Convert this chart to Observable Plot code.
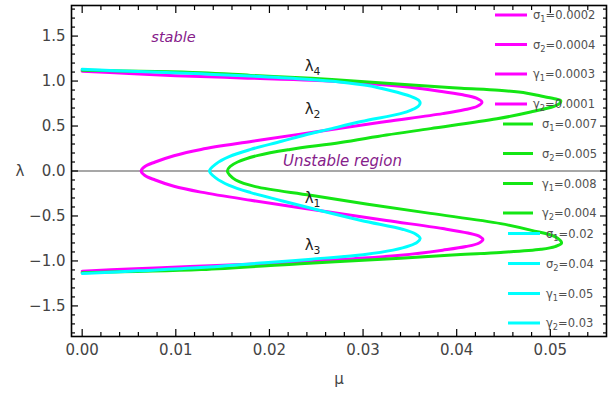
<!DOCTYPE html>
<html>
<head>
<meta charset="utf-8">
<script src="https://cdn.jsdelivr.net/npm/d3@7"></script>
<script src="https://cdn.jsdelivr.net/npm/@observablehq/plot@0.6"></script>
<style>
  body { margin: 0; background: white; }
  #chart { width: 611px; height: 393px; }
</style>
</head>
<body>
<div id="chart"></div>
<script>
// ---- data (μ as a function of λ, along each curve) ----
const lamMagenta = [1.11, 1.085, 1.06, 1.035, 1.01, 0.975, 0.93, 0.89, 0.85, 0.81, 0.765, 0.72, 0.68, 0.638, 0.55, 0.47, 0.41, 0.33, 0.24, 0.17, 0.1, 0.05, 0,
  -0.05, -0.1, -0.17, -0.235, -0.326, -0.437, -0.55, -0.64, -0.69, -0.73, -0.762, -0.80, -0.84, -0.88, -0.937, -0.975, -1.01, -1.04, -1.063, -1.09, -1.114];
const muMagenta = [0, 0.005, 0.010, 0.017, 0.0245, 0.030, 0.035, 0.038, 0.0405, 0.0421, 0.0427, 0.0422, 0.0408, 0.0385, 0.0325, 0.0272, 0.0233, 0.0182, 0.0127, 0.0098, 0.0078, 0.0067, 0.0063,
  0.0067, 0.0078, 0.0098, 0.0127, 0.018, 0.0251, 0.0325, 0.0385, 0.0412, 0.0425, 0.0428, 0.0424, 0.041, 0.0385, 0.034, 0.029, 0.0233, 0.017, 0.0115, 0.005, 0];

const lamGreen = [1.12, 1.093, 1.063, 1.03, 1.0, 0.95, 0.92, 0.897, 0.865, 0.833, 0.80, 0.785, 0.75, 0.72, 0.656, 0.58, 0.471, 0.40, 0.316, 0.24, 0.174, 0.1, 0.05, 0,
  -0.05, -0.1, -0.174, -0.27, -0.37, -0.471, -0.585, -0.66, -0.73, -0.80, -0.84, -0.87, -0.905, -0.93, -0.97, -1.03, -1.096, -1.13];
const muGreen = [0, 0.0127, 0.018, 0.0245, 0.029, 0.036, 0.0405, 0.0445, 0.0475, 0.049, 0.0506, 0.0511, 0.051, 0.0504, 0.0479, 0.0443, 0.0372, 0.0325, 0.0276, 0.0222, 0.0188, 0.0166, 0.0158, 0.0155,
  0.0158, 0.0164, 0.0185, 0.0244, 0.0305, 0.0372, 0.0447, 0.048, 0.0505, 0.0512, 0.0505, 0.049, 0.0447, 0.040, 0.034, 0.0233, 0.0127, 0];

const lamCyan = [1.13, 1.105, 1.08, 1.05, 1.02, 0.99, 0.95, 0.897, 0.83, 0.79, 0.756, 0.72, 0.68, 0.638, 0.55, 0.46, 0.40, 0.33, 0.24, 0.16, 0.08, 0,
  -0.08, -0.16, -0.24, -0.33, -0.437, -0.55, -0.65, -0.70, -0.751, -0.79, -0.83, -0.88, -0.93, -0.98, -1.02, -1.073, -1.11, -1.14];
const muCyan = [0, 0.006, 0.0127, 0.019, 0.024, 0.0275, 0.0305, 0.0328, 0.0351, 0.0359, 0.0361, 0.0359, 0.0352, 0.034, 0.0298, 0.0262, 0.0238, 0.0213, 0.018, 0.0157, 0.0143, 0.0136,
  0.0143, 0.0157, 0.018, 0.0213, 0.0253, 0.0298, 0.0343, 0.0356, 0.0361, 0.0358, 0.035, 0.0332, 0.030, 0.0245, 0.0195, 0.0127, 0.006, 0];

const seriesColors = ["#ff00ff", "#14e614", "#00ffff"];

const legendLabels = [
  "σ_1=0.0002", "σ_2=0.0004", "γ_1=0.0003", "γ_2=0.0001",
  "σ_1=0.007", "σ_2=0.005", "γ_1=0.008", "γ_2=0.004",
  "σ_1=0.02", "σ_2=0.04", "γ_1=0.05", "γ_2=0.03"
];

const xMajor = [0, 0.01, 0.02, 0.03, 0.04, 0.05];
const yMajor = [-1.5, -1.0, -0.5, 0, 0.5, 1.0, 1.5];
const xMinor = d3.range(0, 0.0550, 0.002).filter(v => !xMajor.some(m => Math.abs(m - v) < 1e-9));
const yMinor = d3.range(-18, 19, 1).map(v => v / 10).filter(v => !yMajor.some(m => Math.abs(m - v) < 1e-9));

const curveLabels = ["λ_4", "λ_2", "λ_1", "λ_3"];
const curveLabelMu = [0.0246, 0.0246, 0.0246, 0.0246];
const curveLabelLam = [1.163, 0.686, -0.303, -0.826];

// ---- build tables ----
const toRows = (mu, lam) => mu.map((m, i) => ({mu: m, lambda: lam[i]}));
const magenta = toRows(muMagenta, lamMagenta);
const green = toRows(muGreen, lamGreen);
const cyan = toRows(muCyan, lamCyan);
const curveLabelRows = curveLabels.map((t, i) => ({t, mu: curveLabelMu[i], lambda: curveLabelLam[i]}));

const FONT = "DejaVu Sans, Liberation Sans, sans-serif";

function subscriptify(textEl, str, shift) {
  const parts = str.split(/_(\d)/);
  while (textEl.firstChild) textEl.removeChild(textEl.firstChild);
  const ns = "http://www.w3.org/2000/svg";
  parts.forEach((p, i) => {
    if (p === "") return;
    const ts = document.createElementNS(ns, "tspan");
    ts.textContent = p;
    if (i % 2 === 1) {
      ts.setAttribute("font-size", "72%");
      ts.setAttribute("dy", shift);
    } else if (i > 0) {
      ts.setAttribute("dy", -shift);
    }
    textEl.appendChild(ts);
  });
}

// legend drawn inside the frame (Mathematica-style placed legend)
function legend() {
  const rowsY = [15, 44.5, 74, 104, 124, 153.5, 183.5, 213, 233.5, 263.5, 293.5, 323];
  const lineX = [[495, 527], [503, 533], [508, 540]];
  const textX = [533, 542, 546];
  const g = d3.create("svg:g");
  legendLabels.forEach((lab, i) => {
    const k = Math.floor(i / 4);
    g.append("line")
      .attr("x1", lineX[k][0]).attr("x2", lineX[k][1])
      .attr("y1", rowsY[i]).attr("y2", rowsY[i])
      .attr("stroke", seriesColors[k]).attr("stroke-width", 3);
    const t = g.append("text")
      .attr("x", textX[k]).attr("y", rowsY[i]).attr("dy", "0.35em")
      .attr("text-anchor", "start")
      .attr("font-family", FONT).attr("font-size", 11.5)
      .attr("fill", "#505050");
    subscriptify(t.node(), lab, 3);
  });
  return g.node();
}

const tickStyle = {stroke: "black", strokeWidth: 1.2};

const chart = Plot.plot({
  width: 611,
  height: 393,
  marginLeft: 71,
  marginRight: 5,
  marginTop: 5,
  marginBottom: 57,
  style: {fontFamily: FONT, fontSize: "15px", background: "white", overflow: "visible"},
  x: {domain: [-0.00114, 0.0560]},
  y: {domain: [-1.84, 1.84]},
  marks: [
    Plot.ruleY([0], {stroke: "#8a8a8a", strokeWidth: 1.5}),
    Plot.line(magenta, {x: "mu", y: "lambda", stroke: seriesColors[0], strokeWidth: 3, curve: "catmull-rom"}),
    Plot.line(green, {x: "mu", y: "lambda", stroke: seriesColors[1], strokeWidth: 3, curve: "catmull-rom"}),
    Plot.line(cyan, {x: "mu", y: "lambda", stroke: seriesColors[2], strokeWidth: 3, curve: "catmull-rom"}),
    // axes (inward ticks, all four sides)
    Plot.axisX({anchor: "bottom", ticks: xMajor, tickSize: -7, tickPadding: 15, tickFormat: d3.format(".2f"), label: null, fill: "#444", fontSize: 15, ...tickStyle}),
    Plot.axisX({anchor: "bottom", ticks: xMinor, tickSize: -4, tickFormat: () => "", label: null, ...tickStyle}),
    Plot.axisX({anchor: "top", ticks: xMajor, tickSize: -7, tickFormat: () => "", label: null, ...tickStyle}),
    Plot.axisX({anchor: "top", ticks: xMinor, tickSize: -4, tickFormat: () => "", label: null, ...tickStyle}),
    Plot.axisY({anchor: "left", ticks: yMajor, tickSize: -7, tickPadding: 13, tickFormat: d3.format(".1f"), label: null, fill: "#444", fontSize: 15, ...tickStyle}),
    Plot.axisY({anchor: "left", ticks: yMinor, tickSize: -4, tickFormat: () => "", label: null, ...tickStyle}),
    Plot.axisY({anchor: "right", ticks: yMajor, tickSize: -7, tickFormat: () => "", label: null, ...tickStyle}),
    Plot.axisY({anchor: "right", ticks: yMinor, tickSize: -4, tickFormat: () => "", label: null, ...tickStyle}),
    Plot.frame({stroke: "black", strokeWidth: 1.6}),
    // axis labels
    Plot.text(["λ"], {frameAnchor: "left", dx: -56, fill: "#444", fontSize: 15}),
    Plot.text(["μ"], {frameAnchor: "bottom", dy: 47, fill: "#444", fontSize: 15}),
    // annotations
    Plot.text(["stable"], {x: 0.00975, y: 1.486, fill: "#86208a", fontStyle: "italic", fontSize: 14.5}),
    Plot.text(["Unstable region"], {x: 0.0278, y: 0.108, fill: "#86208a", fontStyle: "italic", fontSize: 15}),
    Plot.text(curveLabelRows, {x: "mu", y: "lambda", text: "t", fill: "#222", fontSize: 15}),
    legend
  ]
});

chart.querySelectorAll("text").forEach(t => {
  const s = t.textContent;
  if (/_\d/.test(s) && t.children.length === 0) subscriptify(t, s, 4);
});

document.getElementById("chart").appendChild(chart);
</script>
</body>
</html>
